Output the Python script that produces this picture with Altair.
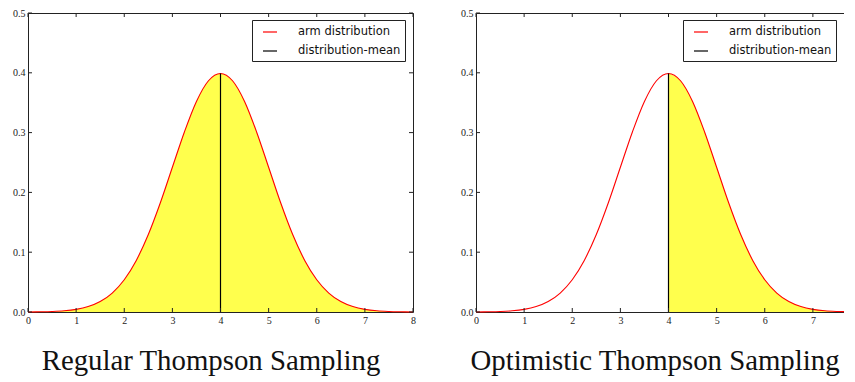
import altair as alt
import pandas as pd

# ---- data ----
x_vals = [0, 0.25, 0.5, 0.75, 1.0, 1.25, 1.5, 1.75, 2.0, 2.25, 2.5, 2.75, 3.0, 3.25, 3.5, 3.75,
          4.0, 4.25, 4.5, 4.75, 5.0, 5.25, 5.5, 5.75, 6.0, 6.25, 6.5, 6.75, 7.0, 7.25, 7.5, 7.75, 8.0]
pdf_vals = [0.0001, 0.0004, 0.0009, 0.002, 0.0044, 0.0091, 0.0175, 0.0317, 0.054, 0.0863, 0.1295,
            0.1826, 0.242, 0.3011, 0.3521, 0.3867, 0.3989, 0.3867, 0.3521, 0.3011, 0.242, 0.1826,
            0.1295, 0.0863, 0.054, 0.0317, 0.0175, 0.0091, 0.0044, 0.002, 0.0009, 0.0004, 0.0001]
mean_x = 4.0
mean_peak = 0.3989
x_ticks = [0, 1, 2, 3, 4, 5, 6, 7, 8]
x_labels_right = [0, 1, 2, 3, 4, 5, 6, 7]
y_ticks = [0.0, 0.1, 0.2, 0.3, 0.4, 0.5]
series_names = ["arm distribution", "distribution-mean"]
series_colors = ["#ff0000", "#000000"]
titles = ["Regular Thompson Sampling", "Optimistic Thompson Sampling"]

curve = pd.DataFrame({"x": x_vals, "y": pdf_vals, "s": series_names[0]})
mean_df = pd.DataFrame({"x": [mean_x, mean_x], "y": [0.0, mean_peak], "s": series_names[1]})
xt = pd.DataFrame({"t": x_ticks})
yt = pd.DataFrame({"t": y_ticks})

W = 385
H = 299
TICK_FONT = "Liberation Serif"
INK = "#222"


def panel(fill_from, title, legend_x, x_label_values, title_dx):
    xs = alt.Scale(domain=[0, 8], nice=False, zero=False)
    ys = alt.Scale(domain=[0, 0.5], nice=False, zero=False)
    x_axis = alt.Axis(values=x_label_values, format="d", grid=False, ticks=False, domain=False,
                      labelFont=TICK_FONT, labelFontSize=10, labelColor=INK,
                      labelPadding=3, labelFlush=False)
    y_axis = alt.Axis(values=y_ticks, format=".1f", grid=False, ticks=False, domain=False,
                      labelFont=TICK_FONT, labelFontSize=10, labelColor=INK,
                      labelPadding=3, minExtent=15, maxExtent=15)
    color = alt.Color("s:N", scale=alt.Scale(domain=series_names, range=series_colors),
                      legend=alt.Legend(title=None, orient="none", legendX=legend_x, legendY=7,
                                        strokeColor=INK, fillColor="white", padding=4,
                                        symbolType="stroke", symbolSize=196, symbolStrokeWidth=1.2,
                                        symbolOffset=6,
                                        labelFont="DejaVu Sans", labelFontSize=11.5,
                                        labelColor="#111", labelOffset=20, rowPadding=5,
                                        cornerRadius=0))

    area = alt.Chart(curve).transform_filter(alt.datum.x >= fill_from).mark_area(
        color="#ffff4d", interpolate="monotone"
    ).encode(x=alt.X("x:Q", scale=xs, axis=x_axis, title=None),
             y=alt.Y("y:Q", scale=ys, axis=y_axis, title=None))
    line = alt.Chart(curve).mark_line(interpolate="monotone", strokeWidth=1.1).encode(
        x=alt.X("x:Q", scale=xs), y=alt.Y("y:Q", scale=ys), color=color)
    mean = alt.Chart(mean_df).mark_line(strokeWidth=1.2).encode(
        x=alt.X("x:Q", scale=xs), y=alt.Y("y:Q", scale=ys), color=color)

    bt = alt.Chart(xt).mark_rule(color=INK).encode(
        x=alt.X("t:Q", scale=xs), y=alt.value(H), y2=alt.value(H - 4))
    tt = alt.Chart(xt).mark_rule(color=INK).encode(
        x=alt.X("t:Q", scale=xs), y=alt.value(0), y2=alt.value(4))
    lt = alt.Chart(yt).mark_rule(color=INK).encode(
        y=alt.Y("t:Q", scale=ys), x=alt.value(0), x2=alt.value(4))
    rt = alt.Chart(yt).mark_rule(color=INK).encode(
        y=alt.Y("t:Q", scale=ys), x=alt.value(W), x2=alt.value(W - 4))

    return alt.layer(area, line, mean, bt, tt, lt, rt).properties(
        width=W, height=H, view=alt.ViewBackground(stroke=INK, strokeWidth=1),
        title=alt.TitleParams(title, orient="bottom", font="Liberation Serif", fontSize=28.8,
                              fontWeight="normal", color="#111", offset=45, dx=title_dx,
                              anchor="middle", baseline="alphabetic"),
    )


left = panel(0, titles[0], 224, x_ticks, -9.5)
right = panel(mean_x, titles[1], 207, x_labels_right, -13.5)

chart = alt.hconcat(left, right, spacing=44).resolve_scale(color="independent").properties(
    padding={"left": 4, "top": -1, "right": -20, "bottom": -1}
).configure(background="white")

chart.save("out.html", embed_options={"renderer": "svg", "actions": False})
